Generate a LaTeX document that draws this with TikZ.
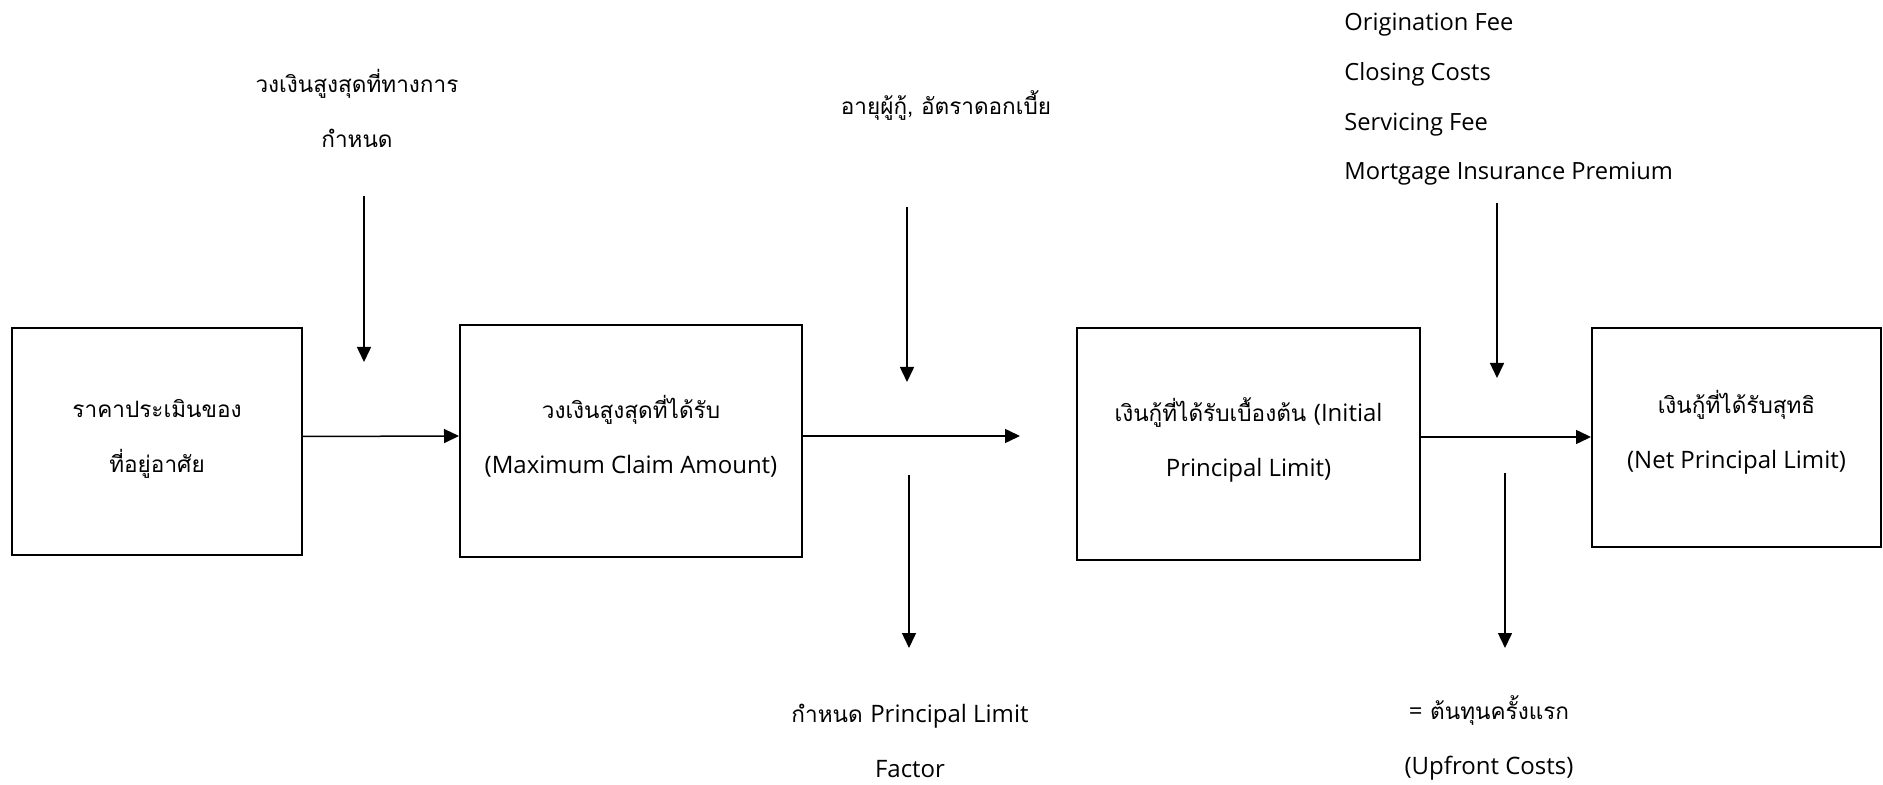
\documentclass[tikz,border=0pt]{standalone}
\usepackage{fontspec}
\setmainfont[Script=Thai,Scale=0.94]{Loma}
\newfontfamily\lat{Open Sans}
\usetikzlibrary{arrows.meta}
\begin{document}
\begin{tikzpicture}[x=0.5pt,y=-0.5pt,
  box/.style={draw,line width=1pt,rectangle,inner sep=0pt,align=center},
  lbl/.style={align=center,inner sep=0pt,font=\fontsize{12}{27.5}\selectfont},
  lst/.style={align=left,inner sep=0pt,font=\fontsize{11.85}{24.8}\selectfont\lat},
  arr/.style={line width=0.75pt,-{Triangle[length=7.5pt,width=7pt]}}]
\useasboundingbox (0,0) rectangle (1883,785);
% boxes
\node[box,minimum width=145pt,minimum height=113.5pt] (b1) at (157,441.5) {};
\node[box,minimum width=171pt,minimum height=116pt] (b2) at (631,441) {};
\node[box,minimum width=171.5pt,minimum height=116pt] (b3) at (1248.5,444) {};
\node[box,minimum width=144.5pt,minimum height=109.5pt] (b4) at (1736.5,437.5) {};
% box texts
\node[lbl] (t1) at (157,438.5) {ราคาประเมินของ\\ที่อยู่อาศัย};
\node[lbl] (t2) at (631,436.5) {วงเงินสูงสุดที่ได้รับ\\{\lat (Maximum Claim Amount)}};
\node[lbl] (t3) at (1248.5,439.5) {เงินกู้ที่ได้รับเบื้องต้น {\lat (Initial}\\{\lat Principal Limit)}};
\node[lbl] (t4) at (1736.5,432) {เงินกู้ที่ได้รับสุทธิ\\{\lat (Net Principal Limit)}};
% outer labels
\node[lbl] (l1) at (357,108) {วงเงินสูงสุดที่ทางการ\\กำหนด};
\node[lbl] (l2) at (946,105) {อายุผู้กู้, อัตราดอกเบี้ย};
\node[lst,anchor=west] (l3) at (1344,99.5) {Origination Fee\\Closing Costs\\Servicing Fee\\Mortgage Insurance Premium};
\node[lbl] (l4) at (910,741) {กำหนด {\lat Principal Limit}\\{\lat Factor}};
\node[lbl] (l5) at (1489,738) {{\lat =} ต้นทุนครั้งแรก\\{\lat (Upfront Costs)}};
% coordinates
\coordinate (a1s) at (364,196); \coordinate (a1e) at (364,362);
\coordinate (a2s) at (907,207); \coordinate (a2e) at (907,382);
\coordinate (a3s) at (909,475); \coordinate (a3e) at (909,648);
\coordinate (a4s) at (1497,203); \coordinate (a4e) at (1497,378);
\coordinate (a5s) at (1505,473); \coordinate (a5e) at (1505,648);
\coordinate (h2e) at (1020,436);
% connectors
\draw[arr] ([yshift=2.5pt]b1.east) -- ([yshift=2.5pt]b2.west);
\draw[arr] ([yshift=2.5pt]b2.east) -- (h2e);
\draw[arr] ([yshift=3.5pt]b3.east) -- ([yshift=0.25pt]b4.west);
\draw[arr] (a1s) -- (a1e);
\draw[arr] (a2s) -- (a2e);
\draw[arr] (a3s) -- (a3e);
\draw[arr] (a4s) -- (a4e);
\draw[arr] (a5s) -- (a5e);
\end{tikzpicture}
\end{document}
